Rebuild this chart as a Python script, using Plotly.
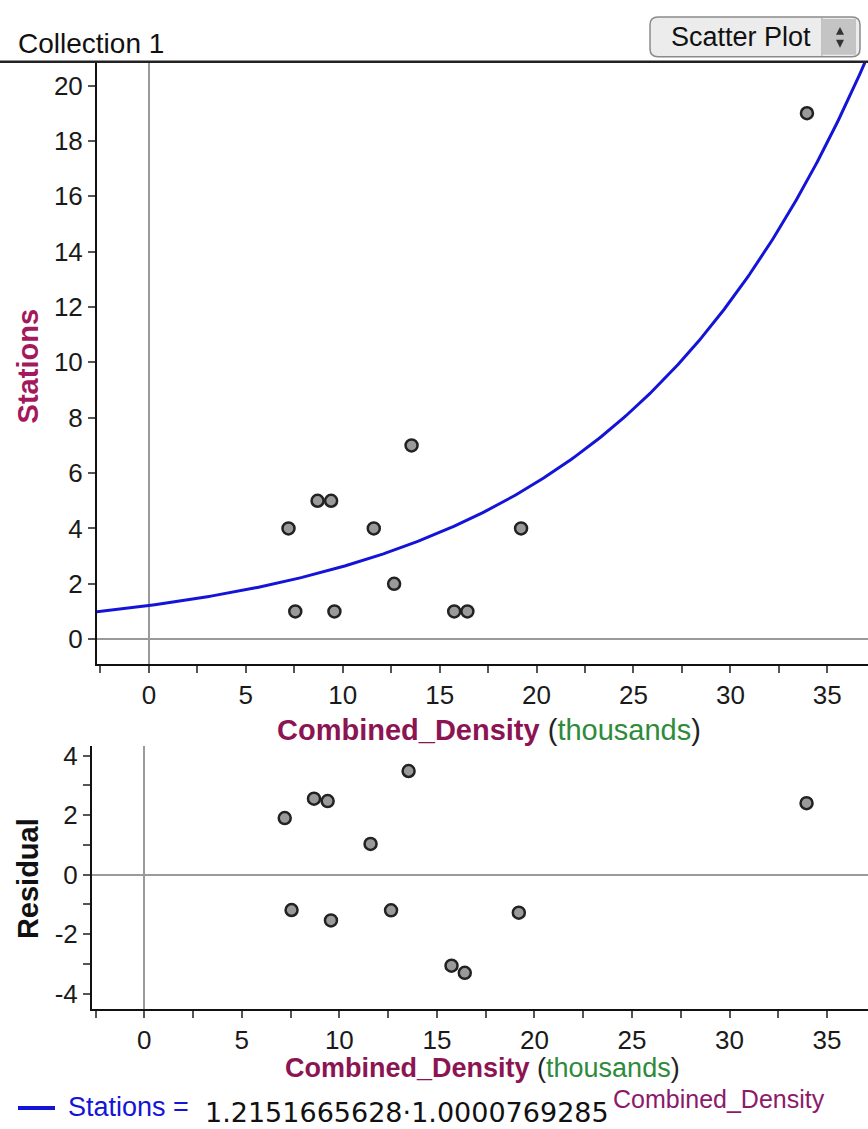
import numpy as np
import plotly.graph_objects as go

W, H = 868, 1129

# ---- data ----
density_k = [7.2, 8.7, 9.4, 11.6, 13.55, 7.55, 9.57, 12.65, 19.2, 15.75, 16.43, 33.95]
stations = [4, 5, 5, 4, 7, 1, 1, 2, 4, 1, 1, 19]
residuals = [1.9, 2.55, 2.47, 1.03, 3.48, -1.19, -1.54, -1.2, -1.28, -3.06, -3.3, 2.4]
coef_a = 1.2151665628
coef_b = 1.0000769285
x_ticks = [0, 5, 10, 15, 20, 25, 30, 35]
y_ticks_top = [0, 2, 4, 6, 8, 10, 12, 14, 16, 18, 20]
y_ticks_bot = [-4, -2, 0, 2, 4]
y_ticks_bot_text = ["-4", "-2", "0", "2", "4"]

# fitted model curve (density in thousands -> raw density)
xc = np.linspace(-2.7, 37.2, 400)
yc = coef_a * coef_b ** (xc * 1000)

def px(x):
    return x / W

def py(y):
    return 1 - y / H

FONT = "Liberation Sans, Arial, sans-serif"
marker = dict(size=12, color="#9a9a9a", line=dict(width=2.5, color="#222222"))

fig = go.Figure()
fig.add_trace(go.Scatter(x=xc, y=yc, mode="lines", line=dict(color="#1414d8", width=3),
                         xaxis="x", yaxis="y", hoverinfo="skip"))
fig.add_trace(go.Scatter(x=density_k, y=stations, mode="markers", marker=marker,
                         xaxis="x", yaxis="y"))
fig.add_trace(go.Scatter(x=density_k, y=residuals, mode="markers", marker=marker,
                         xaxis="x2", yaxis="y2"))

axis_common = dict(showline=True, linecolor="#111", linewidth=2, ticks="outside",
                   ticklen=7, tickwidth=1.5, tickcolor="#555", showgrid=False,
                   zeroline=True, zerolinecolor="#9a9a9a", zerolinewidth=2,
                   tickfont=dict(family=FONT, size=26, color="#1a1a1a"), mirror=False,
                   fixedrange=True)
minor_x = dict(dtick=2.5, tick0=0, ticks="outside", ticklen=7, tickcolor="#555", tickwidth=1.5)

fig.update_layout(
    width=W, height=H, margin=dict(l=0, r=0, t=0, b=0),
    paper_bgcolor="white", plot_bgcolor="white", showlegend=False,
    xaxis=dict(axis_common, domain=[px(97), 1], range=[-2.68, 37.1], anchor="y",
               tickvals=x_ticks, minor=minor_x),
    yaxis=dict(axis_common, domain=[py(662), py(57)], range=[-0.9, 20.86], anchor="x",
               tickvals=y_ticks_top),
    xaxis2=dict(axis_common, domain=[px(92), 1], range=[-2.68, 37.1], anchor="y2",
                tickvals=x_ticks, minor=minor_x),
    yaxis2=dict(axis_common, domain=[py(1008), py(744)], range=[-4.5, 4.33], anchor="x2",
                tickvals=y_ticks_bot, ticktext=y_ticks_bot_text,
                minor=dict(dtick=1, tick0=0, ticks="outside", ticklen=7,
                           tickcolor="#555", tickwidth=1.5)),
)

shapes = []
# header line
shapes.append(dict(type="line", xref="paper", yref="paper", x0=0, x1=1, y0=py(57), y1=py(57),
                   line=dict(color="#222", width=2.5)))
# button
bx0, bx1, by0, by1, r = 650, 860, 12, 52, 8
path = (f"M {px(bx0+r)},{py(by0)} L {px(bx1-r)},{py(by0)} Q {px(bx1)},{py(by0)} {px(bx1)},{py(by0+r)} "
        f"L {px(bx1)},{py(by1-r)} Q {px(bx1)},{py(by1)} {px(bx1-r)},{py(by1)} "
        f"L {px(bx0+r)},{py(by1)} Q {px(bx0)},{py(by1)} {px(bx0)},{py(by1-r)} "
        f"L {px(bx0)},{py(by0+r)} Q {px(bx0)},{py(by0)} {px(bx0+r)},{py(by0)} Z")
shapes.append(dict(type="path", xref="paper", yref="paper", path=path,
                   fillcolor="#ececec", line=dict(color="#8a8a8a", width=1.5)))
shapes.append(dict(type="rect", xref="paper", yref="paper", x0=px(823), x1=px(856),
                   y0=py(50), y1=py(14), fillcolor="#c4c4c4", line=dict(width=0)))
shapes.append(dict(type="line", xref="paper", yref="paper", x0=px(822), x1=px(822),
                   y0=py(13), y1=py(51), line=dict(color="#999", width=1)))
tri_up = f"M {px(836)},{py(30)} L {px(844)},{py(30)} L {px(840)},{py(22)} Z"
tri_dn = f"M {px(836)},{py(35)} L {px(844)},{py(35)} L {px(840)},{py(43)} Z"
for t in (tri_up, tri_dn):
    shapes.append(dict(type="path", xref="paper", yref="paper", path=t,
                       fillcolor="#333", line=dict(width=0)))
# equation legend line
shapes.append(dict(type="line", xref="paper", yref="paper", x0=px(18), x1=px(55),
                   y0=py(1108), y1=py(1108), line=dict(color="#1414d8", width=4)))
fig.update_layout(shapes=shapes)

PURPLE = "#8c1452"
GREEN = "#2e8b3a"
title_txt = (f"<b><span style='color:{PURPLE}'>Combined_Density</span></b>"
             f"<span style='color:#222'> (</span><span style='color:{GREEN}'>thousands</span>"
             f"<span style='color:#222'>)</span>")
ann = [
    dict(text="Collection 1", x=px(16), y=py(39), xanchor="left", yanchor="middle",
         font=dict(family=FONT, size=28, color="#111")),
    dict(text="Scatter Plot", x=px(741), y=py(32), xanchor="center", yanchor="middle",
         font=dict(family=FONT, size=27, color="#111")),
    dict(text=title_txt, x=px(489), y=py(728), xanchor="center", yanchor="middle",
         font=dict(family=FONT, size=29)),
    dict(text=title_txt, x=px(483), y=py(1068), xanchor="center", yanchor="middle",
         font=dict(family=FONT, size=27)),
    dict(text=f"<b>Stations</b>", x=px(28), y=py(363), xanchor="center", yanchor="middle",
         textangle=-90, font=dict(family=FONT, size=29, color="#a3195b")),
    dict(text=f"<b>Residual</b>", x=px(28), y=py(878), xanchor="center", yanchor="middle",
         textangle=-90, font=dict(family=FONT, size=29, color="#111")),
    dict(text="Stations =", x=px(66), y=py(1107), xanchor="left", yanchor="middle",
         font=dict(family=FONT, size=27, color="#1414d8")),
    dict(text=f"{coef_a:.10f}\u00b7{coef_b:.10f}", x=px(203), y=py(1112), xanchor="left",
         yanchor="middle", font=dict(family="DejaVu Sans, sans-serif", size=27, color="#111")),
    dict(text="Combined_Density", x=px(611), y=py(1099), xanchor="left", yanchor="middle",
         font=dict(family=FONT, size=25, color="#8c1a6b")),
]
for a in ann:
    a.setdefault("xref", "paper")
    a.setdefault("yref", "paper")
    a.setdefault("showarrow", False)
fig.update_layout(annotations=ann)

fig.write_html("out.html")
